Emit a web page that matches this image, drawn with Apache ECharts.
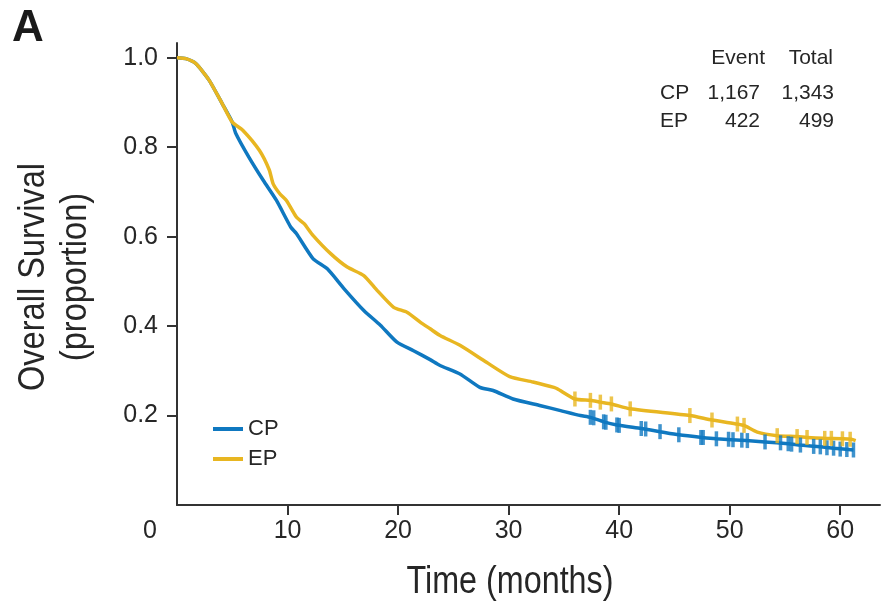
<!DOCTYPE html>
<html>
<head>
<meta charset="utf-8">
<script src="https://cdn.jsdelivr.net/npm/echarts@6/dist/echarts.min.js"></script>
<style>
html,body{margin:0;padding:0;background:#fff;}
#chart{width:881px;height:602px;}
</style>
</head>
<body>
<div id="chart"></div>
<script>
// ---- data ----
const seriesNames = ['CP', 'EP'];
const xTicks = [10, 20, 30, 40, 50, 60];
const yTicks = [0.2, 0.4, 0.6, 0.8, 1.0];

const cpCurve = [[0,1.0],[0.8,0.998],[1.7,0.987],[2.9,0.950],[4.1,0.897],[5.0,0.856],[5.3,0.832],[6.5,0.778],[7.8,0.726],[9.0,0.681],[10.3,0.621],[10.8,0.607],[12.3,0.551],[13.6,0.528],[15.1,0.484],[16.9,0.435],[18.4,0.402],[19.9,0.364],[21.4,0.345],[22.9,0.325],[23.8,0.312],[25.6,0.293],[27.4,0.263],[28.6,0.256],[30.4,0.237],[32.9,0.222],[34.7,0.211],[36.5,0.200],[37.4,0.196],[38.6,0.186],[39.8,0.179],[42.0,0.171],[43.7,0.164],[45.4,0.157],[47.5,0.151],[48.8,0.148],[51.5,0.144],[53.2,0.141],[55.3,0.137],[56.4,0.134],[58.2,0.130],[59.4,0.127],[61.2,0.123]];

const epCurve = [[0,1.0],[0.8,0.998],[1.7,0.987],[2.9,0.950],[4.1,0.897],[5.0,0.856],[5.95,0.838],[7.45,0.793],[8.35,0.749],[8.7,0.718],[9.3,0.696],[9.9,0.681],[10.8,0.644],[11.5,0.629],[12.3,0.603],[13.9,0.562],[15.4,0.532],[16.9,0.513],[18.1,0.480],[19.6,0.442],[20.8,0.431],[22.0,0.409],[22.9,0.394],[23.8,0.379],[25.6,0.357],[28.0,0.319],[30.1,0.287],[32.2,0.275],[34.1,0.263],[34.4,0.260],[36.0,0.237],[37.4,0.234],[38.3,0.230],[39.3,0.226],[41.0,0.215],[46.4,0.200],[48.4,0.190],[50.7,0.181],[51.3,0.178],[52.5,0.163],[54.3,0.155],[56.1,0.153],[57.0,0.151],[58.5,0.149],[60.2,0.148],[61.0,0.147],[61.4,0.144]];

const cpCensored = [[37.4,0.196],[37.7,0.195],[38.6,0.186],[38.8,0.185],[39.8,0.179],[40.0,0.178],[42.0,0.171],[42.4,0.170],[43.7,0.164],[45.4,0.157],[47.4,0.151],[47.6,0.151],[48.8,0.148],[49.9,0.147],[50.3,0.146],[51.1,0.145],[51.6,0.144],[53.2,0.141],[54.6,0.139],[55.3,0.137],[55.6,0.136],[56.4,0.134],[57.6,0.131],[58.2,0.130],[58.8,0.128],[59.4,0.127],[60.0,0.125],[60.6,0.124],[61.2,0.123]];

const epCensored = [[36.0,0.237],[37.4,0.234],[38.3,0.230],[39.3,0.226],[41.0,0.215],[46.4,0.200],[48.4,0.190],[50.7,0.181],[51.3,0.178],[54.3,0.155],[56.1,0.153],[57.0,0.151],[58.6,0.149],[59.2,0.149],[60.2,0.148],[60.9,0.147]];

const tableHeader = ['Event', 'Total'];
const tableEvents = ['1,167', '422'];
const tableTotals = ['1,343', '499'];

// ---- styling ----
const blue = '#0f78c0';
const gold = '#e8b621';
const ink = '#262626';
const regular = "'Liberation Sans', Arial, sans-serif";

const chart = echarts.init(document.getElementById('chart'), null, {renderer: 'canvas'});

const tableTexts = [];
tableTexts.push({type:'text', x:765, y:58, style:{text:tableHeader[0], fill:ink, font:'21px ' + regular, textAlign:'right', textVerticalAlign:'middle'}});
tableTexts.push({type:'text', x:833, y:58, style:{text:tableHeader[1], fill:ink, font:'21px ' + regular, textAlign:'right', textVerticalAlign:'middle'}});
const rowY = [93, 121];
seriesNames.forEach((n, i) => {
  tableTexts.push({type:'text', x:660, y:rowY[i], style:{text:n, fill:ink, font:'21px ' + regular, textAlign:'left', textVerticalAlign:'middle'}});
  tableTexts.push({type:'text', x:760, y:rowY[i], style:{text:tableEvents[i], fill:ink, font:'21px ' + regular, textAlign:'right', textVerticalAlign:'middle'}});
  tableTexts.push({type:'text', x:834, y:rowY[i], style:{text:tableTotals[i], fill:ink, font:'21px ' + regular, textAlign:'right', textVerticalAlign:'middle'}});
});

const option = {
  backgroundColor: '#fff',
  animation: false,
  grid: {left: 177, right: 1, top: 43, bottom: 97, containLabel: false},
  xAxis: {
    type: 'value', min: 0, max: 63.6,
    splitLine: {show: false},
    axisLine: {show: true, onZero: false, lineStyle: {color: '#333', width: 2}},
    axisTick: {show: true, length: 10, customValues: xTicks, lineStyle: {color: '#333', width: 2}},
    axisLabel: {customValues: xTicks, margin: 14, color: ink, fontSize: 25, fontFamily: regular, formatter: v => String(v)}
  },
  yAxis: {
    type: 'value', min: 0, max: 1.033,
    splitLine: {show: false},
    axisLine: {show: true, onZero: false, lineStyle: {color: '#333', width: 2}},
    axisTick: {show: true, length: 10, customValues: yTicks, lineStyle: {color: '#333', width: 2}},
    axisLabel: {customValues: yTicks, margin: 19, color: ink, fontSize: 25, fontFamily: regular, formatter: v => v.toFixed(1)}
  },
  legend: {
    data: seriesNames,
    orient: 'vertical', left: 213, top: 418, padding: 0,
    icon: 'rect', itemWidth: 30, itemHeight: 4, itemGap: 8,
    textStyle: {color: ink, fontSize: 22, fontFamily: regular}
  },
  series: [
    {name: 'CP', type: 'line', data: cpCurve, showSymbol: false, smooth: 0.2, color: blue, lineStyle: {color: blue, width: 3.5}, z: 2},
    {name: 'EP', type: 'line', data: epCurve, showSymbol: false, smooth: 0.2, color: gold, lineStyle: {color: gold, width: 3.5}, z: 3},
    {name: 'CP censored', type: 'scatter', data: cpCensored, symbol: 'rect', symbolSize: [3.5, 15], itemStyle: {color: blue}, z: 4},
    {name: 'EP censored', type: 'scatter', data: epCensored, symbol: 'rect', symbolSize: [3.5, 15], itemStyle: {color: gold}, z: 4}
  ],
  graphic: [
    {type:'text', x:12, y:29, style:{text:'A', fill:'#1a1a1a', font:'bold 44px ' + regular, textAlign:'left', textVerticalAlign:'middle'}},
    {type:'text', x:150, y:531, style:{text:'0', fill:ink, font:'25px ' + regular, textAlign:'center', textVerticalAlign:'middle'}},
    {type:'text', x:510, y:583, scaleX: 0.85, style:{text:'Time (months)', fill:ink, font:'38px ' + regular, textAlign:'center', textVerticalAlign:'middle'}},
    {type:'text', x:55, y:277, rotation: Math.PI/2, scaleX: 0.88, style:{text:'Overall Survival\n(proportion)', fill:ink, font:'37px ' + regular, lineHeight: 42, textAlign:'center', textVerticalAlign:'middle'}}
  ].concat(tableTexts)
};
chart.setOption(option);
</script>
</body>
</html>
